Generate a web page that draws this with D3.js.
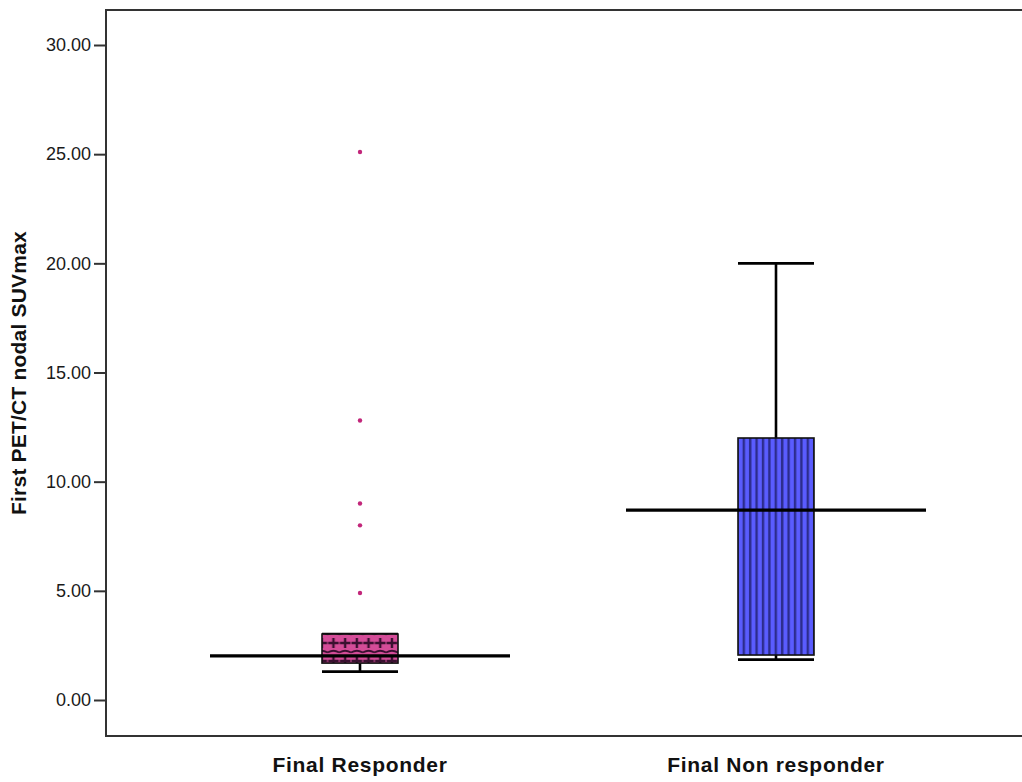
<!DOCTYPE html>
<html>
<head>
<meta charset="utf-8">
<script src="https://cdn.jsdelivr.net/npm/d3@7"></script>
<style>
  html, body { margin: 0; padding: 0; background: #fff; }
  svg { display: block; }
</style>
</head>
<body>
<svg id="chart" width="1022" height="782"></svg>
<script>
const categories = ["Final Responder", "Final Non responder"];
const whiskerLow  = [1.30, 1.85];
const q1          = [1.69, 2.06];
const median      = [2.02, 8.70];
const q3          = [3.02, 12.00];
const whiskerHigh = [3.02, 20.00];
const outliers = [[4.90, 8.00, 9.00, 12.80, 25.10], []];
const yTicks = [0, 5, 10, 15, 20, 25, 30];
const yLabel = "First PET/CT nodal SUVmax";

(function () {
const svg = d3.select("#chart");
const W = 1022, H = 782;
const plotLeft = 106, plotTop = 10, plotBottom = 736;

const y = d3.scaleLinear().domain([0, 30]).range([700, 45]);
const x = d3.scaleBand().domain(categories).range([152, 984]).padding(0);
const cx = c => x(c) + x.bandwidth() / 2;
const boxHalf = 38;
const medHalf = 150;

// patterns
const defs = svg.append("defs");
const pPink = defs.append("pattern").attr("id", "pink").attr("patternUnits", "userSpaceOnUse")
  .attr("width", 11.7).attr("height", 18).attr("x", 0).attr("y", 637);
pPink.append("rect").attr("width", 11.7).attr("height", 18).attr("fill", "#d44c98");
pPink.append("path").attr("d", "M5.85,1 V11 M0.5,6 H11.2").attr("stroke", "#3a1030").attr("stroke-width", 2.4);
pPink.append("path").attr("d", "M0,15.5 Q5.85,12 11.7,15.5").attr("stroke", "#3a1030").attr("stroke-width", 1.8).attr("fill", "none");

const pBlue = defs.append("pattern").attr("id", "blue").attr("patternUnits", "userSpaceOnUse")
  .attr("width", 6.4).attr("height", 10).attr("x", 739).attr("y", 0);
pBlue.append("rect").attr("width", 6.4).attr("height", 10).attr("fill", "#5a5cff");
pBlue.append("rect").attr("x", 3.6).attr("width", 2.4).attr("height", 10).attr("fill", "#2c2c8c");

const fills = ["url(#pink)", "url(#blue)"];

// frame
const frameColor = "#333";
svg.append("line").attr("x1", plotLeft).attr("x2", W).attr("y1", plotTop).attr("y2", plotTop)
  .attr("stroke", frameColor).attr("stroke-width", 2);
svg.append("line").attr("x1", plotLeft).attr("x2", W).attr("y1", plotBottom).attr("y2", plotBottom)
  .attr("stroke", frameColor).attr("stroke-width", 2);
svg.append("line").attr("x1", plotLeft).attr("x2", plotLeft).attr("y1", plotTop - 1).attr("y2", plotBottom + 1)
  .attr("stroke", frameColor).attr("stroke-width", 2);

// y axis
const yAxis = d3.axisLeft(y).tickValues(yTicks).tickFormat(d3.format(".2f")).tickSize(12).tickPadding(3);
const ga = svg.append("g").attr("transform", `translate(${plotLeft},0)`).call(yAxis);
ga.select(".domain").remove();
ga.selectAll(".tick line").attr("stroke", frameColor).attr("stroke-width", 2);
ga.selectAll(".tick text").attr("fill", "#1a1a1a").style("font-family", "Liberation Sans, Arial, sans-serif")
  .style("font-size", "18px");

// y label
svg.append("text").attr("transform", `translate(26,373) rotate(-90)`).attr("text-anchor", "middle")
  .style("font-family", "Liberation Sans, Arial, sans-serif").style("font-weight", "bold")
  .style("font-size", "21px").style("letter-spacing", "0.2px").attr("fill", "#111").text(yLabel);

// x labels
svg.selectAll(".xl").data(categories).enter().append("text")
  .attr("x", d => cx(d)).attr("y", 772).attr("text-anchor", "middle")
  .style("font-family", "Liberation Sans, Arial, sans-serif").style("font-weight", "bold")
  .style("font-size", "21px").style("letter-spacing", "0.7px").attr("fill", "#111").text(d => d);

// boxes
categories.forEach((c, i) => {
  const g = svg.append("g");
  const xc = cx(c);
  g.append("line").attr("x1", xc).attr("x2", xc).attr("y1", y(whiskerHigh[i])).attr("y2", y(q3[i]))
    .attr("stroke", "#000").attr("stroke-width", 2.6);
  g.append("line").attr("x1", xc).attr("x2", xc).attr("y1", y(q1[i])).attr("y2", y(whiskerLow[i]))
    .attr("stroke", "#000").attr("stroke-width", 2.6);
  g.append("line").attr("x1", xc - boxHalf).attr("x2", xc + boxHalf).attr("y1", y(whiskerHigh[i])).attr("y2", y(whiskerHigh[i]))
    .attr("stroke", "#000").attr("stroke-width", 2.6);
  g.append("line").attr("x1", xc - boxHalf).attr("x2", xc + boxHalf).attr("y1", y(whiskerLow[i])).attr("y2", y(whiskerLow[i]))
    .attr("stroke", "#000").attr("stroke-width", 2.6);
  g.append("rect").attr("x", xc - boxHalf).attr("width", boxHalf * 2)
    .attr("y", y(q3[i])).attr("height", y(q1[i]) - y(q3[i]))
    .attr("fill", fills[i]).attr("stroke", "#111").attr("stroke-width", 1.6);
  g.append("line").attr("x1", xc - medHalf).attr("x2", xc + medHalf).attr("y1", y(median[i])).attr("y2", y(median[i]))
    .attr("stroke", "#000").attr("stroke-width", 3.2);
  g.selectAll("circle").data(outliers[i]).enter().append("circle")
    .attr("cx", xc).attr("cy", d => y(d)).attr("r", 2.2).attr("fill", "#c2267a");
});
})();
</script>
</body>
</html>
